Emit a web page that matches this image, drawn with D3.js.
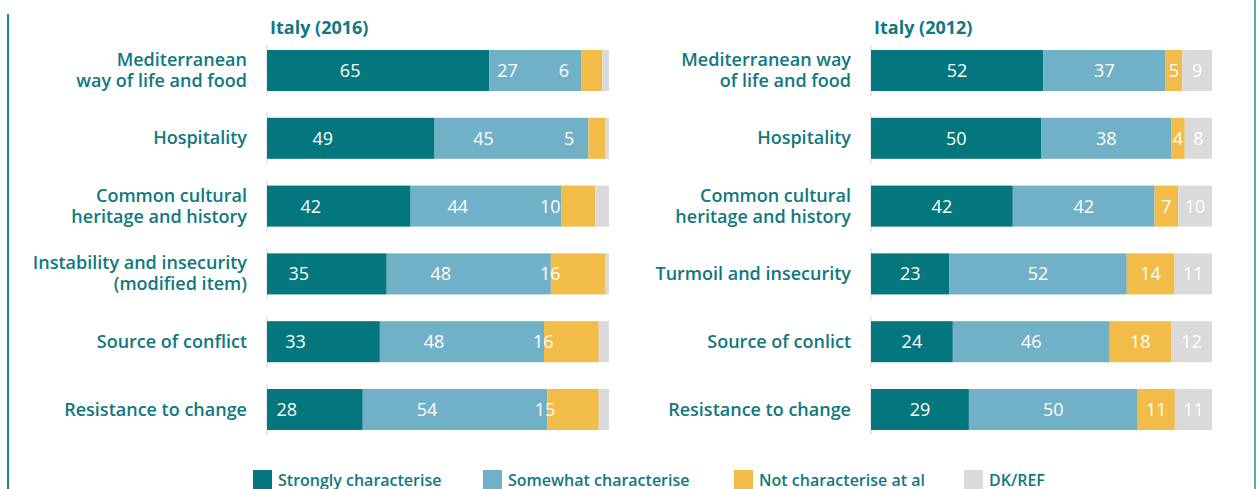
<!DOCTYPE html>
<html>
<head>
<meta charset="utf-8">
<script src="https://cdn.jsdelivr.net/npm/d3@7"></script>
<style>
  body { margin: 0; background: #fff; }
  svg { display: block; font-family: "Open Sans", "Noto Sans", sans-serif; }
</style>
</head>
<body>
<svg id="chart" width="1257" height="489"></svg>
<script>
// series, in legend order
var seriesNames = ["Strongly characterise", "Somewhat characterise", "Not characterise at al", "DK/REF"];
var colors = ["#03767e", "#71b1c8", "#f1bc47", "#d9dad9"];

// Italy (2016)
var cats2016 = ["Mediterranean|way of life and food", "Hospitality", "Common cultural|heritage and history",
	"Instability and insecurity|(modified item)", "Source of conflict", "Resistance to change"];
var strongly2016 = [65, 49, 42, 35, 33, 28];
var somewhat2016 = [27, 45, 44, 48, 48, 54];
var notAtAll2016 = [6, 5, 10, 16, 16, 15];
var dkref2016 = [2, 1, 4, 1, 3, 3];

// Italy (2012)
var cats2012 = ["Mediterranean way|of life and food", "Hospitality", "Common cultural|heritage and history",
	"Turmoil and insecurity", "Source of conlict", "Resistance to change"];
var strongly2012 = [52, 50, 42, 23, 24, 29];
var somewhat2012 = [37, 38, 42, 52, 46, 50];
var notAtAll2012 = [5, 4, 7, 14, 18, 11];
var dkref2012 = [9, 8, 10, 11, 12, 11];

var teal = "#10787f";
var svg = d3.select("#chart");

// frame lines
svg.append("line").attr("x1", 8).attr("x2", 8).attr("y1", 14).attr("y2", 489)
	.attr("stroke", "#178890").attr("stroke-width", 2);
svg.append("line").attr("x1", 1255).attr("x2", 1255).attr("y1", 0).attr("y2", 489)
	.attr("stroke", "#5ea9b0").attr("stroke-width", 2);

var panels = [
	{title: "Italy (2016)", cats: cats2016, vals: [strongly2016, somewhat2016, notAtAll2016, dkref2016],
		x0: 267, x1: 609, labelShift: -28, showDk: false},
	{title: "Italy (2012)", cats: cats2012, vals: [strongly2012, somewhat2012, notAtAll2012, dkref2012],
		x0: 871, x1: 1212, labelShift: 0, showDk: true}
];

panels.forEach(function(p) {
	var rows = p.cats.map(function(c, i) {
		var r = {cat: c};
		seriesNames.forEach(function(s, k) { r[s] = p.vals[k][i]; });
		return r;
	});

	var stack = d3.stack().keys(seriesNames).offset(d3.stackOffsetExpand)(rows);

	var x = d3.scaleLinear().domain([0, 1]).range([p.x0, p.x1]);
	var y = d3.scaleBand().domain(p.cats).range([36.6, 443.4])
		.paddingInner(0.395).paddingOuter(0.1975);

	var g = svg.append("g");

	// title
	g.append("text")
		.attr("x", p.x0 + 3)
		.attr("y", 34)
		.attr("fill", teal)
		.attr("font-weight", 700)
		.attr("font-size", "18px")
		.text(p.title);

	// thin axis segments
	g.selectAll(".axis-seg")
		.data(p.cats)
		.enter().append("line")
		.attr("x1", p.x0).attr("x2", p.x0)
		.attr("y1", function(d) { return y(d) - 5; })
		.attr("y2", function(d) { return y(d) + y.bandwidth() + 5; })
		.attr("stroke", "#e3e3e3")
		.attr("stroke-width", 1.5);

	// category labels
	var lab = g.selectAll(".cat")
		.data(p.cats)
		.enter().append("text")
		.attr("text-anchor", "end")
		.attr("fill", teal)
		.attr("font-weight", 600)
		.attr("font-size", "18px")
		.attr("y", function(d) { return y(d) + y.bandwidth() / 2; });

	lab.each(function(d) {
		var lines = d.split("|");
		var t = d3.select(this);
		lines.forEach(function(line, i) {
			t.append("tspan")
				.attr("x", p.x0 - 20)
				.attr("dy", i === 0 ? (-(lines.length - 1) * 10.5 + 6) + "px" : "21px")
				.text(line);
		});
	});

	// bars
	var layer = g.selectAll(".layer")
		.data(stack)
		.enter().append("g")
		.attr("fill", function(d, i) { return colors[i]; });

	layer.selectAll("rect")
		.data(function(d) { return d; })
		.enter().append("rect")
		.attr("x", function(d) { return x(d[0]); })
		.attr("width", function(d) { return x(d[1]) - x(d[0]); })
		.attr("y", function(d) { return y(d.data.cat); })
		.attr("height", y.bandwidth());

	// value labels
	layer.filter(function(d, i) { return p.showDk || i < 3; })
		.selectAll(".val")
		.data(function(d) { return d.map(function(v) { v.key = d.key; return v; }); })
		.enter().append("text")
		.attr("x", function(d) { return (x(d[0]) + x(d[1])) / 2 + p.labelShift; })
		.attr("y", function(d) { return y(d.data.cat) + y.bandwidth() / 2 + 6.5; })
		.attr("text-anchor", "middle")
		.attr("fill", "#fff")
		.attr("font-size", "18px")
		.text(function(d) { return d.data[d.key]; });
});

// legend
var legendX = [253, 483, 734, 964];
var legend = svg.selectAll(".legend")
	.data(seriesNames)
	.enter().append("g")
	.attr("transform", function(d, i) { return "translate(" + legendX[i] + ",470)"; });

legend.append("rect")
	.attr("width", 19).attr("height", 19)
	.attr("fill", function(d, i) { return colors[i]; });

legend.append("text")
	.attr("x", 25)
	.attr("y", 16)
	.attr("fill", teal)
	.attr("font-weight", 600)
	.attr("font-size", "16px")
	.text(function(d) { return d; });
</script>
</body>
</html>
